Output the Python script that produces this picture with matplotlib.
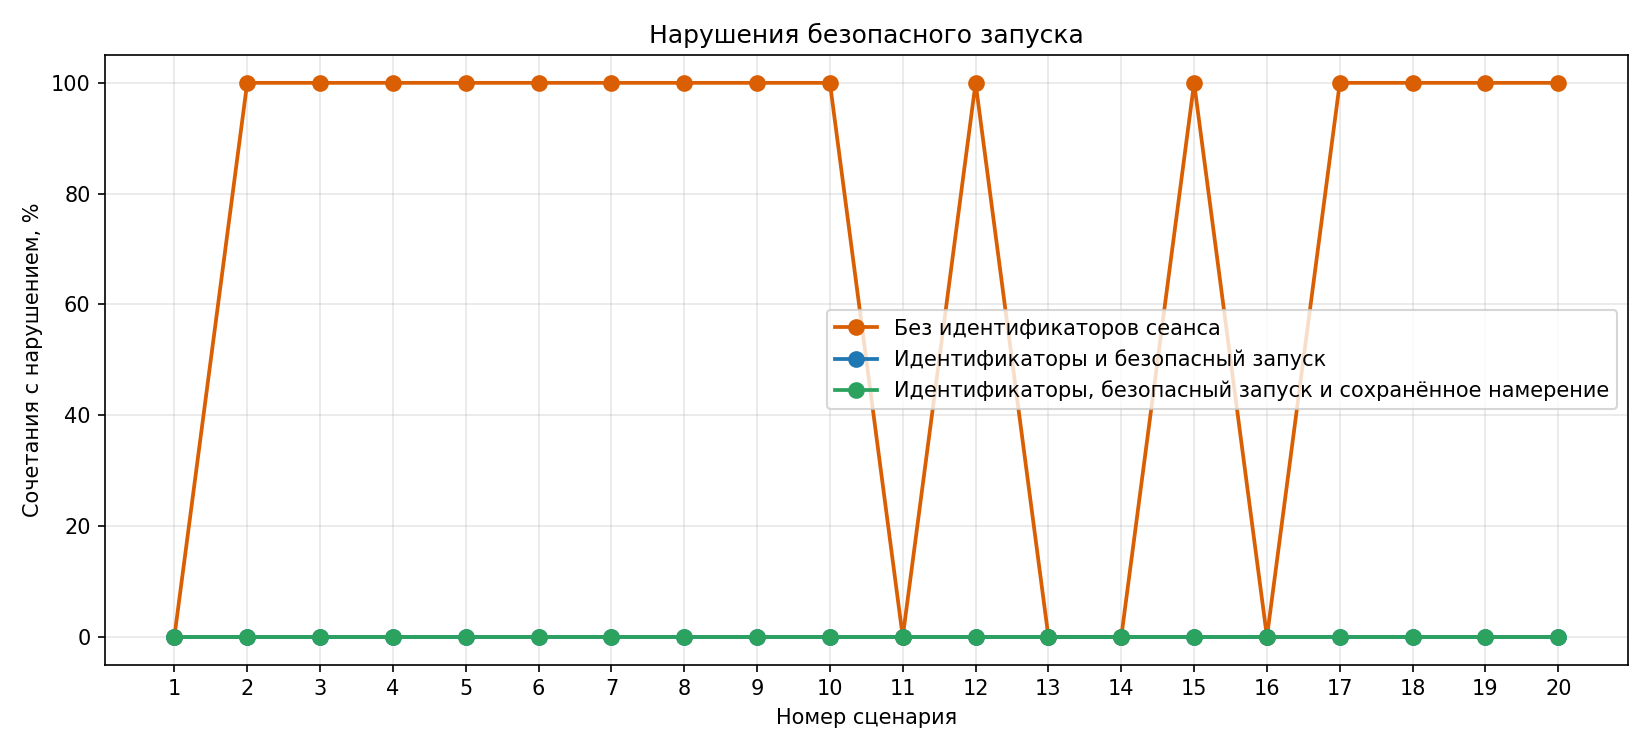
import matplotlib
matplotlib.use("Agg")
import matplotlib.pyplot as plt

scenarios = list(range(1, 21))
no_ids = [0, 100, 100, 100, 100, 100, 100, 100, 100, 100,
          0, 100, 0, 0, 100, 0, 100, 100, 100, 100]
ids_safe = [0] * 20
ids_safe_intent = [0] * 20

labels = ["Без идентификаторов сеанса",
          "Идентификаторы и безопасный запуск",
          "Идентификаторы, безопасный запуск и сохранённое намерение"]
colors = ["#d95f02", "#1f77b4", "#2ca25f"]

fig, ax = plt.subplots(figsize=(11, 5), dpi=150)
for vals, lab, col in zip([no_ids, ids_safe, ids_safe_intent], labels, colors):
    ax.plot(scenarios, vals, marker="o", color=col, label=lab,
            linewidth=1.8, markersize=7)

ax.set_xticks(scenarios)
ax.set_title("Нарушения безопасного запуска")
ax.set_xlabel("Номер сценария")
ax.set_ylabel("Сочетания с нарушением, %")
ax.grid(True, alpha=0.3)
ax.legend(loc="center right")
fig.tight_layout()
fig.savefig("out.png")
